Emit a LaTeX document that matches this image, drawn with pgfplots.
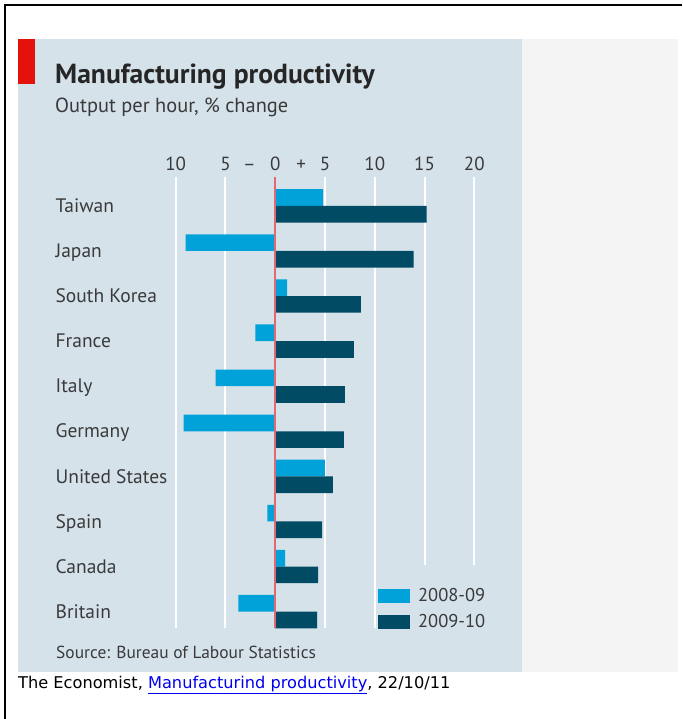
\documentclass[border=0pt]{standalone}
\usepackage{pgfplots}
\pgfplotsset{compat=1.18}
\usepackage{fontspec}
\setmainfont{PT Sans}
\newfontfamily\capfont{DejaVu Sans}

\definecolor{panel}{RGB}{213,226,234}
\definecolor{side}{RGB}{244,244,244}
\definecolor{econred}{RGB}{227,18,11}
\definecolor{zeroline}{RGB}{228,104,114}
\definecolor{lightbar}{RGB}{0,162,217}
\definecolor{darkbar}{RGB}{1,75,100}
\definecolor{txt}{RGB}{58,58,58}
\definecolor{linkblue}{RGB}{0,0,238}

% % change in output per hour, manufacturing
\pgfplotstableread{
y   first  second
9   4.8    15.2
8  -9.0    13.9
7   1.2     8.6
6  -2.0     7.9
5  -6.0     7.0
4  -9.2     6.9
3   5.0     5.8
2  -0.8     4.7
1   1.0     4.3
0  -3.7     4.2
}\prod

\begin{document}
\begin{tikzpicture}
\useasboundingbox (0pt,0pt) rectangle (682pt,719pt);
% frame
\draw[line width=2pt] (5pt,0pt) -- (5pt,714pt) -- (682pt,714pt);
% panels
\fill[side] (522pt,47pt) rectangle (678pt,680pt);
\fill[panel] (18pt,47pt) rectangle (522pt,680pt);
\fill[econred] (18pt,635pt) rectangle (35pt,680pt);

\node[anchor=base west, inner sep=0pt, text=black!85] at (55pt,635.7pt)
  {\fontsize{27.6}{31}\selectfont\bfseries Manufacturing productivity};
\node[anchor=base west, inner sep=0pt, text=txt] at (55pt,606.7pt)
  {\fontsize{20.4}{24}\selectfont Output per hour, \% change};
\node[anchor=base west, inner sep=0pt, text=txt] at (56pt,60pt)
  {\fontsize{17.4}{20}\selectfont Source: Bureau of Labour Statistics};
\node[anchor=base west, inner sep=0pt] at (18pt,30.7pt)
  {\capfont\fontsize{16.2}{19}\selectfont The Economist, \textcolor{linkblue}{\underline{Manufacturind productivity}}, 22/10/11};

\begin{axis}[
  at={(175.7pt,90.7pt)}, anchor=south west,
  x=9.953pt, y=45.08pt,
  xmin=-10, xmax=20, ymin=-0.37, ymax=9.65,
  axis line style={draw=none},
  tick style={draw=none},
  xbar, bar width=16.7pt,
  xtick={-10,-5,-2.6,0,2.6,5,10,15,20},
  xticklabels={10,5,--,0,+,5,10,15,20},
  xticklabel pos=upper,
  xticklabel style={anchor=base, inner sep=0pt, yshift=6pt, text=txt,
    font=\fontsize{19}{21}\selectfont},
  ytick={0,...,9},
  yticklabels={Britain,Canada,Spain,United States,Germany,Italy,France,South Korea,Japan,Taiwan},
  yticklabel style={anchor=base west, inner sep=0pt, xshift=-116pt, yshift=-6.7pt,
    text=txt, font=\fontsize{19.5}{22}\selectfont},
  legend style={at={(axis cs:10.35,0.56)}, anchor=north west, draw=none, fill=none,
    inner sep=0pt, row sep=7.5pt, font=\fontsize{18.5}{21}\selectfont,
    text=txt, /tikz/every odd column/.append style={column sep=6pt}},
  legend cell align=left,
  legend image code/.code={\fill[#1] (0pt,-7.15pt) rectangle (31.7pt,7.15pt);},
  clip=false,
]
% gridlines
\foreach \g in {-10,-5,5,10}{
  \edef\tmp{\noexpand\draw[white, line width=2pt] (axis cs:\g,-0.37) -- (axis cs:\g,9.65);}\tmp
}
\foreach \g in {15,20}{
  \edef\tmp{\noexpand\draw[white, line width=2pt] (axis cs:\g,1.04) -- (axis cs:\g,9.65);}\tmp
}
\addplot[fill=lightbar, draw=none, bar shift=8.35pt] table[x=first, y=y] {\prod};
\addplot[fill=darkbar, draw=none, bar shift=-8.35pt] table[x=second, y=y] {\prod};
\draw[zeroline, line width=2pt] (axis cs:0,-0.37) -- (axis cs:0,9.65);
\legend{2008-09,2009-10}
\end{axis}
\end{tikzpicture}
\end{document}
